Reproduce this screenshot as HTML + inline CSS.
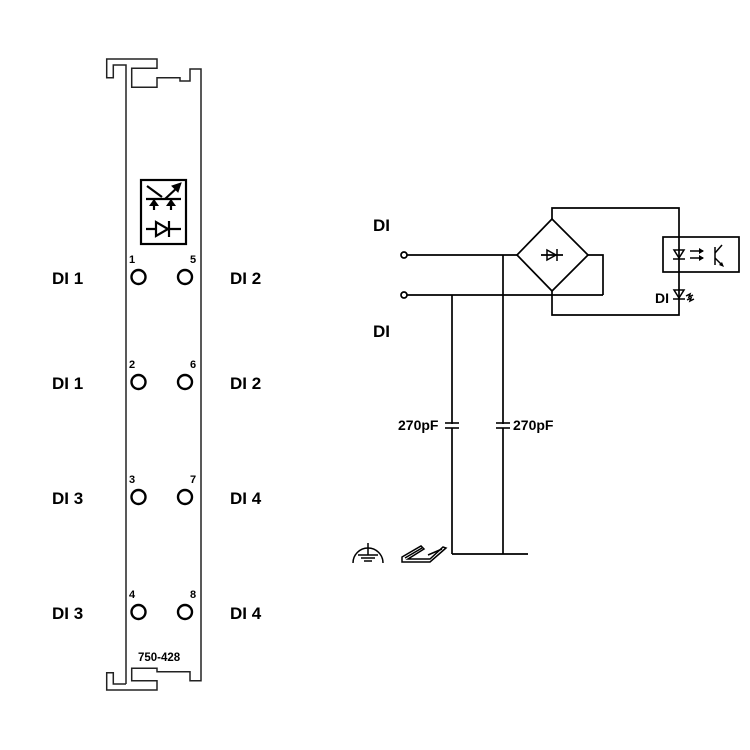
<!DOCTYPE html>
<html><head><meta charset="utf-8"><style>
html,body{margin:0;padding:0;background:#fff;}
svg{display:block;}
text{font-family:"Liberation Sans",sans-serif;font-weight:bold;fill:#000;}
</style></head><body>
<svg width="750" height="750" viewBox="0 0 750 750" xmlns="http://www.w3.org/2000/svg">
<g fill="none" stroke="#222" stroke-width="1.5">
<polyline points="126,684 126,65 113.3,65 113.3,77.7 106.7,77.7 106.7,59 157,59 157,68.3 131.7,68.3 131.7,87.3 157,87.3 157,77.7 180,77.7 180,81 190,81 190,69 201,69 201,680.7 190,680.7 190,671.7 157,671.7 157,668.3 131.7,668.3 131.7,680.7 157,680.7 157,690 106.7,690 106.7,672.7 113.3,672.7 113.3,684 126,684"/>
</g>
<rect x="141" y="180" width="45" height="64" fill="none" stroke="#000" stroke-width="2.2"/>
<g stroke="#000" stroke-width="2.2" fill="#000">
<line x1="146" y1="199" x2="181" y2="199"/>
<line x1="147" y1="186" x2="162" y2="197"/>
<line x1="165" y1="199" x2="179" y2="186"/>
<polygon points="181,183 172,186 178,192" stroke-width="1"/>
<line x1="154" y1="199" x2="154" y2="210"/><line x1="171" y1="199" x2="171" y2="210"/>
<polygon points="154,199 149,206 159,206" stroke-width="0"/><polygon points="171,199 166,206 176,206" stroke-width="0"/>
<line x1="146" y1="229" x2="181" y2="229"/>
<polygon points="156,222 156,236 168,229" fill="#fff"/>
<line x1="169" y1="221" x2="169" y2="237"/>
</g>
<g fill="none" stroke="#000" stroke-width="2.4">
<circle cx="138.5" cy="277" r="7"/><circle cx="185" cy="277" r="7"/>
<circle cx="138.5" cy="382" r="7"/><circle cx="185" cy="382" r="7"/>
<circle cx="138.5" cy="497" r="7"/><circle cx="185" cy="497" r="7"/>
<circle cx="138.5" cy="612" r="7"/><circle cx="185" cy="612" r="7"/>
</g>
<g font-size="11">
<text x="129" y="263">1</text><text x="190" y="263">5</text>
<text x="129" y="368">2</text><text x="190" y="368">6</text>
<text x="129" y="483">3</text><text x="190" y="483">7</text>
<text x="129" y="598">4</text><text x="190" y="598">8</text>
<text x="138" y="661" font-size="11.5">750-428</text>
</g>
<g font-size="17">
<text x="52" y="284">DI 1</text><text x="230" y="284">DI 2</text>
<text x="52" y="389">DI 1</text><text x="230" y="389">DI 2</text>
<text x="52" y="504">DI 3</text><text x="230" y="504">DI 4</text>
<text x="52" y="619">DI 3</text><text x="230" y="619">DI 4</text>
<text x="373" y="231">DI</text><text x="373" y="337">DI</text>
</g>
<g fill="none" stroke="#000" stroke-width="1.7">
<circle cx="404" cy="255" r="3" fill="#fff"/><circle cx="404" cy="295" r="3" fill="#fff"/>
<line x1="407" y1="255" x2="517" y2="255"/>
<line x1="407" y1="295" x2="603" y2="295"/>
<polygon points="552,219 588,255 552,291 517,255"/>
<polyline points="588,255 603,255 603,295"/>
<polyline points="552,219 552,208 679,208 679,315 552,315 552,291"/>
<rect x="663" y="237" width="76" height="35"/>
<line x1="452" y1="295" x2="452" y2="554"/>
<line x1="503" y1="255" x2="503" y2="554"/>
<line x1="452" y1="554" x2="528" y2="554"/>
<line x1="541" y1="255" x2="563" y2="255"/>
</g>
<g stroke="#fff" stroke-width="4"><line x1="452" y1="424" x2="452" y2="428"/><line x1="503" y1="424" x2="503" y2="428"/></g>
<g stroke="#000" stroke-width="1.6">
<line x1="445" y1="423" x2="459" y2="423"/><line x1="445" y1="428" x2="459" y2="428"/>
<line x1="496" y1="423" x2="510" y2="423"/><line x1="496" y1="428" x2="510" y2="428"/>
</g>
<g font-size="14"><text x="398" y="430">270pF</text><text x="513" y="430">270pF</text></g>
<polygon points="547,250 547,260 556,255" fill="none" stroke="#000" stroke-width="1.5"/>
<line x1="557" y1="249" x2="557" y2="261" stroke="#000" stroke-width="1.5"/>
<g stroke="#000" stroke-width="1.5" fill="none">
<polygon points="674,250 684,250 679,258"/><line x1="673" y1="259" x2="685" y2="259"/>
<line x1="690" y1="251" x2="703" y2="251"/><line x1="690" y1="258" x2="703" y2="258"/>
<line x1="715" y1="247" x2="715" y2="265"/>
<polyline points="715,253 722,245"/><line x1="715" y1="258" x2="722" y2="265"/>
<polygon points="674,290 684,290 679,298"/><line x1="673" y1="299" x2="685" y2="299"/>
<path d="M686,296 l4,-2 -1,3 4,-2 M687,300 l4,-2 -1,3 4,-2"/>
</g>
<g fill="#000"><polygon points="704,251 699,248 699,254"/><polygon points="704,258 699,255 699,261"/><polygon points="724,267 719,265 722,262"/></g>
<text x="655" y="303" font-size="14">DI</text>
<g fill="none" stroke="#000" stroke-width="1.5">
<path d="M353,563 A15,15 0 0 1 383,563"/>
<line x1="368" y1="543" x2="368" y2="555"/>
<line x1="358" y1="555" x2="378" y2="555"/><line x1="361" y1="558" x2="375" y2="558"/><line x1="364" y1="561" x2="372" y2="561"/>
<polygon points="402,557 421,546 424,549 408,559 430,559 443,547 446,548 430,562 402,562"/>
<line x1="405" y1="558" x2="422" y2="548"/><line x1="428" y1="555" x2="442" y2="549"/>
</g>
</svg>
</body></html>
